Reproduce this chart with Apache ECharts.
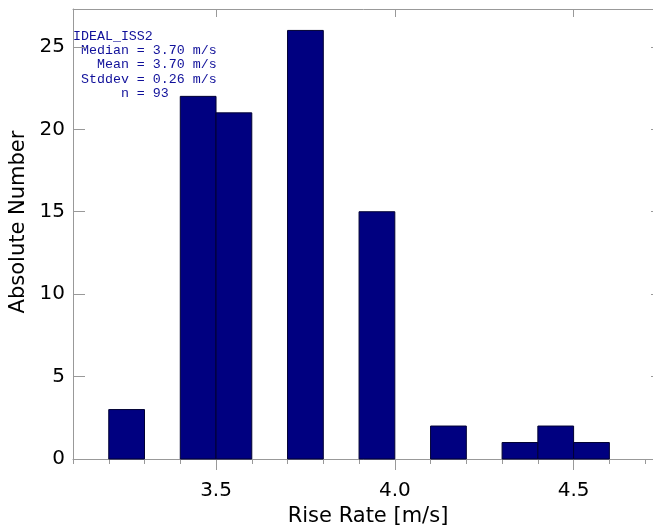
<!DOCTYPE html>
<html>
<head>
<meta charset="utf-8">
<script src="https://cdn.jsdelivr.net/npm/echarts@6/dist/echarts.min.js"></script>
<style>
  html, body { margin: 0; padding: 0; background: #fff; }
  #chart { width: 653px; height: 529px; }
</style>
</head>
<body>
<div id="chart"></div>
<script>
// histogram bins (lower edge) and counts
const binStarts = [3.2, 3.4, 3.5, 3.7, 3.9, 4.1, 4.3, 4.4, 4.5];
const counts = [3, 22, 21, 26, 15, 2, 1, 2, 1];
const binWidth = 0.1;

const majorTicks = [3.5, 4.0, 4.5];
const minorTicks = [3.1, 3.2, 3.3, 3.4, 3.5, 3.6, 3.7, 3.8, 3.9, 4.0, 4.1, 4.2, 4.3, 4.4, 4.5, 4.6, 4.7];

const statsLines = [
  'IDEAL_ISS2',
  ' Median = 3.70 m/s',
  '   Mean = 3.70 m/s',
  ' Stddev = 0.26 m/s',
  '      n = 93'
];

const axisGrey = '#999';
const tickFont = { color: '#000', fontFamily: 'DejaVu Sans', fontSize: 20 };
const nameFont = { color: '#000', fontFamily: 'DejaVu Sans', fontSize: 21 };

var myChart = echarts.init(document.getElementById('chart'));

var option = {
  animation: false,
  grid: { left: 73, top: 9, width: 590, height: 450, outerBoundsMode: 'none', containLabel: false },
  xAxis: [
    {
      type: 'value', min: 3.1, max: 4.75, position: 'bottom',
      axisLine: { lineStyle: { color: axisGrey } },
      axisTick: { inside: false, length: 11, lineStyle: { color: axisGrey }, customValues: majorTicks },
      axisLabel: { margin: 22, customValues: majorTicks, formatter: v => v.toFixed(1), ...tickFont },
      splitLine: { show: false },
      name: 'Rise Rate [m/s]', nameLocation: 'middle', nameGap: 45,
      nameTextStyle: nameFont
    },
    {
      type: 'value', min: 3.1, max: 4.75, position: 'bottom',
      axisLine: { show: false },
      axisTick: { inside: false, length: 5, lineStyle: { color: axisGrey }, customValues: minorTicks },
      axisLabel: { show: false },
      splitLine: { show: false }
    },
    {
      type: 'value', min: 3.1, max: 4.75, position: 'top',
      axisLine: { lineStyle: { color: axisGrey } },
      axisTick: { inside: true, length: 8, lineStyle: { color: axisGrey }, customValues: majorTicks },
      axisLabel: { show: false },
      splitLine: { show: false }
    }
  ],
  yAxis: [
    {
      type: 'value', min: 0, max: 27.3, interval: 5, position: 'left',
      axisLine: { show: true, lineStyle: { color: axisGrey } },
      axisTick: { show: true, inside: true, length: 12, lineStyle: { color: axisGrey } },
      axisLabel: { margin: 8, showMaxLabel: false, ...tickFont },
      splitLine: { show: false },
      name: 'Absolute Number', nameLocation: 'middle', nameGap: 40, nameRotate: 90,
      nameTextStyle: { ...nameFont, padding: [0, 0, 0, 24] }
    },
    {
      type: 'value', min: 0, max: 27.3, interval: 5, position: 'right',
      axisLine: { show: true, lineStyle: { color: axisGrey } },
      axisTick: { show: true, inside: true, length: 12, lineStyle: { color: axisGrey } },
      axisLabel: { show: false },
      splitLine: { show: false }
    }
  ],
  graphic: [{
    type: 'text', left: 73, top: 29,
    style: {
      text: statsLines.join('\n'),
      font: '13.3px "Liberation Mono"',
      lineHeight: 14.3,
      fill: '#10109a'
    }
  }],
  series: [{
    type: 'custom',
    xAxisIndex: 0, yAxisIndex: 0,
    data: binStarts.map((b, i) => [b, counts[i]]),
    encode: { x: 0, y: 1 },
    renderItem: (params, api) => {
      const x0 = api.value(0);
      const y = api.value(1);
      const p0 = api.coord([x0, y]);
      const p1 = api.coord([x0 + binWidth, 0]);
      return {
        type: 'rect',
        shape: { x: p0[0], y: p0[1], width: p1[0] - p0[0], height: p1[1] - p0[1] },
        style: { fill: '#000080', stroke: '#000033', lineWidth: 1 }
      };
    }
  }]
};
myChart.setOption(option);
</script>
</body>
</html>
